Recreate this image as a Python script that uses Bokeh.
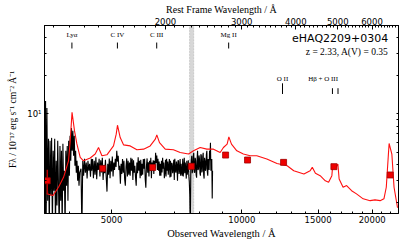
from bokeh.plotting import figure
from bokeh.models import Range1d, LogScale, LogAxis, FixedTicker, BoxAnnotation, Label, ColumnDataSource
from bokeh.embed import file_html
from bokeh.resources import INLINE
from bokeh.core.properties import value

# ---------------- data ----------------
object_name = "eHAQ2209+0304"
redshift = 2.33
a_v = 0.35

# observed spectrum (black)
spec_wave = [3500, 3510, 3520, 3530, 3545, 3560, 3575, 3590, 3605, 3620, 3635, 3650, 3665, 3680, 3695,
             3710, 3725, 3740, 3755, 3770, 3785, 3800, 3815, 3830, 3845, 3860, 3875, 3890, 3905, 3920,
             3935, 3950, 3965, 3980, 3995, 4010, 4025, 4040, 4055, 4070, 4085, 4100, 4115, 4130, 4145,
             4160, 4175, 4190, 4205, 4220, 4250, 4270, 4290, 4310, 4330, 4350, 4370, 4390, 4410, 4430,
             4450, 4470, 4490,
             4500, 4520, 4540, 4560, 4580, 4600, 4620, 4640, 4660, 4680,
             4700, 4720, 4740, 4760, 4780, 4800, 4820, 4840, 4860, 4880,
             4900, 4920, 4940, 4960, 4980, 5000, 5020, 5040, 5060, 5080,
             5100, 5120, 5140, 5160, 5180, 5200, 5220, 5240, 5260, 5280,
             5300, 5320, 5340, 5360, 5380, 5400, 5420, 5440, 5460, 5480,
             5500, 5520, 5540, 5560, 5580, 5600, 5620, 5640, 5660, 5680,
             5700, 5720, 5740, 5760, 5780, 5800, 5820, 5840, 5860, 5880,
             5900, 5920, 5940, 5960, 5980, 6000, 6020, 6040, 6060, 6080,
             6100, 6120, 6140, 6160, 6180, 6200, 6220, 6240, 6260, 6280,
             6300, 6320, 6340, 6360, 6380, 6400, 6420, 6440, 6460, 6480,
             6500, 6520, 6540, 6560, 6580, 6600, 6620, 6640, 6660, 6680,
             6700, 6720, 6740, 6760, 6780, 6800, 6820, 6840, 6860, 6880,
             6900, 6920, 6940, 6960, 6980, 7000, 7020, 7040, 7060, 7080,
             7100, 7120, 7140, 7160, 7180, 7200, 7220, 7240, 7260, 7280,
             7300, 7320, 7340, 7360, 7380, 7400, 7420, 7440, 7460, 7480,
             7500, 7520, 7540, 7560, 7580, 7600,
             7620, 7640, 7660, 7680, 7700, 7720, 7740, 7760, 7780,
             7800, 7820, 7840, 7860, 7880, 7900, 7920, 7940, 7960, 7980,
             8000, 8020, 8040, 8060, 8080, 8100, 8120, 8140, 8160, 8180,
             8200, 8220, 8240, 8260, 8280, 8300, 8320, 8340, 8360, 8380,
             8400, 8420, 8440, 8460, 8480, 8500, 8520, 8540, 8555]
spec_flux = [5.11, 1.2, 12.66, 1.2, 11.15, 2.06, 6.36, 1.2, 6.13, 2.26, 6.47, 1.2, 5.11, 2.47, 6.36,
             1.2, 4.26, 1.89, 6.13, 2.71, 1.2, 5.59, 2.06, 5.11, 1.2, 5.80, 2.47, 3.55, 1.2, 5.11,
             2.71, 5.59, 2.06, 6.13, 3.25, 6.71, 4.26, 7.76, 5.11, 7.35, 4.67, 6.71, 3.89, 5.11, 3.43,
             4.26, 2.96, 3.89, 2.71, 3.43, 3.69, 1.2, 4.26, 3.25, 4.42, 3.43, 4.12, 3.08, 4.26, 3.55,
             4.04, 3.19, 4.42,
             3.55, 4.40, 3.10, 4.26, 3.30, 4.55, 3.05, 4.12, 3.60, 4.42,
             3.20, 4.30, 3.45, 4.50, 3.00, 3.95, 3.40, 4.35, 3.15, 2.43,
             4.04, 3.30, 4.45, 3.10, 4.26, 3.50, 4.60, 3.20, 4.12, 3.60,
             4.42, 3.80, 5.11, 4.20, 4.67, 3.60, 3.89, 2.81, 4.04, 3.35,
             4.40, 3.43, 4.26, 3.05, 2.71, 3.83, 4.45, 3.20, 4.26, 3.31,
             4.12, 3.25, 4.50, 3.55, 4.42, 3.00, 4.30, 3.43, 3.89, 3.15,
             2.71, 4.12, 3.40, 4.55, 3.55, 4.26, 3.10, 4.35, 3.25, 4.04,
             3.30, 4.40, 3.69, 4.42, 3.05, 2.61, 3.89, 4.45, 3.43, 4.15,
             3.20, 4.26, 3.55, 4.50, 3.10, 4.12, 3.69, 4.30, 3.35, 4.26,
             3.70, 4.93, 4.10, 4.70, 3.60, 4.42, 3.55, 4.20, 3.25, 4.04,
             3.25, 4.26, 3.45, 4.50, 3.69, 4.12, 3.10, 3.43, 4.35, 3.20,
             4.42, 3.55, 4.20, 3.30, 3.89, 4.40, 3.15, 4.26, 3.19, 4.10,
             4.04, 3.40, 3.69, 4.35, 3.00, 4.42, 3.60, 3.43, 4.20, 3.89,
             2.96, 4.30, 4.26, 3.35, 3.55, 4.40, 3.25, 4.04, 3.45, 3.25,
             4.42, 3.20, 3.69, 4.50, 3.40, 4.12, 3.60, 3.08, 4.26, 3.30,
             3.69, 4.30, 3.25, 2.90, 2.26, 1.2,
             3.55, 4.30, 4.67, 3.40, 3.69, 4.60, 4.93, 3.50, 3.43,
             4.50, 4.26, 3.30, 3.13, 4.40, 5.11, 3.60, 3.69, 4.70, 4.42,
             3.40, 3.25, 4.80, 4.67, 3.45, 3.55, 4.60, 4.93, 3.30, 3.08,
             4.50, 4.26, 3.55, 3.69, 4.80, 5.11, 3.50, 3.25, 4.40, 4.26,
             3.60, 5.11, 4.30, 5.91, 3.55, 4.26, 4.40, 2.14, 3.55]

# reddened quasar model (red)
model_wave = [3540, 3660, 3771, 3873, 3977, 4013, 4052, 4106, 4158, 4232, 4307, 4463, 4583, 4665, 4750,
              4878, 5052, 5125, 5160, 5235, 5328, 5521, 5721, 5928, 6140, 6310, 6360, 6452, 6652, 6948,
              7202, 7528, 7731, 8010, 8298, 8600, 8909, 9065, 9245, 9330, 9461, 9734, 10078, 10450, 10825,
              11418, 12052, 12722, 13175, 13907, 14377, 14541, 14785, 15162, 15585, 15858, 16137, 16200,
              16493, 16660, 16773, 17129, 17452, 17922, 18396, 19061, 19779, 20300, 20859, 21285, 21553,
              21799, 21880, 22201, 22462, 22880]
model_flux = [2.34, 2.26, 2.63, 3.15, 4.26, 6.13, 10.3, 7.35, 5.80, 4.53, 4.26, 4.48, 4.82, 5.43, 4.67,
              4.75, 5.59, 6.92, 8.15, 6.51, 5.70, 5.59, 5.21, 5.27, 5.59, 6.32, 6.83, 5.94, 5.27, 5.21,
              4.96, 4.82, 5.11, 5.43, 5.27, 5.27, 4.96, 5.43, 5.77, 6.59, 5.77, 5.11, 4.82, 4.67, 4.67,
              4.40, 4.06, 3.89, 3.55, 3.35, 3.55, 3.78, 3.39, 3.25, 2.96, 2.88, 3.25, 3.83,
              3.78, 4.02, 3.06, 2.63, 2.71, 2.47, 2.33, 2.13, 2.06, 2.09, 2.06, 2.13, 2.63,
              4.82, 5.84, 4.82, 2.63, 1.81]

# photometry (u g r i z Y J H K)
phot_wave = [3551, 4770, 6220, 7640, 9170, 10305, 12483, 16313, 22010]
phot_flux = [2.96, 3.71, 3.77, 3.85, 4.73, 4.32, 4.14, 3.83, 3.29]
phot_err_lo = [2.34, 3.65, 3.72, 3.80, 4.66, 4.26, 4.08, 3.77, 3.22]
phot_err_hi = [3.62, 3.77, 3.82, 3.90, 4.80, 4.38, 4.20, 3.89, 3.36]

# emission line markers (rest-frame wavelengths, Angstrom)
line_names_top = ["Lyα", "C IV", "C III", "Mg II"]
line_rest_top = [1216, 1549, 1909, 2799]
line_names_low = ["O II", "Hβ + O III"]
line_rest_low = [3727, 5007]
line_ticks_low = [3727, 4861, 5007]

# telluric band (observed, Angstrom)
telluric = (7570, 7740)

# axis ticks
x_major = [5000, 10000, 15000, 20000]
x_minor = [4000, 6000, 7000, 8000, 9000, 11000, 12000, 13000, 14000, 16000, 17000, 18000, 19000,
           21000, 22000]
rest_major = [2000, 3000, 4000, 5000, 6000]
rest_minor = [1100, 1200, 1300, 1400, 1500, 1600, 1700, 1800, 1900,
              2100, 2200, 2300, 2400, 2500, 2600, 2700, 2800, 2900,
              3100, 3200, 3300, 3400, 3500, 3600, 3700, 3800, 3900,
              4100, 4200, 4300, 4400, 4500, 4600, 4700, 4800, 4900,
              5100, 5200, 5300, 5400, 5500, 5600, 5700, 5800, 5900,
              6100, 6200, 6300, 6400, 6500, 6600, 6700, 6800, 6900]
y_major = [10]
y_minor = [2, 3, 4, 5, 6, 7, 8, 9, 20, 30, 40, 50]

# ---------------- figure ----------------
x_lo, x_hi = 3500, 23000
y_lo, y_hi = 1.63, 50.2

SANS = "DejaVu Sans"
SERIF = "Liberation Serif"

p = figure(width=407, height=242, x_axis_type="log", y_axis_type="log",
           x_range=Range1d(x_lo, x_hi), y_range=Range1d(y_lo, y_hi),
           output_backend="svg", toolbar_location=None,
           min_border_left=44, min_border_right=9, min_border_top=24, min_border_bottom=29)
p.grid.visible = False
p.outline_line_color = "black"
p.outline_line_width = 1
p.background_fill_color = "white"
p.border_fill_color = "white"

p.extra_x_ranges = {"rest": Range1d(x_lo / (1 + redshift), x_hi / (1 + redshift))}
p.extra_x_scales = {"rest": LogScale()}


def style_axis(ax):
    ax.axis_line_color = "black"
    ax.major_tick_in = 4
    ax.major_tick_out = 0
    ax.minor_tick_in = 2
    ax.minor_tick_out = 0
    ax.major_tick_line_color = "black"
    ax.minor_tick_line_color = "black"
    ax.major_label_text_font = SANS
    ax.major_label_text_font_size = "8.5px"
    ax.major_label_text_color = "black"
    ax.axis_label_text_font = SERIF
    ax.axis_label_text_font_style = "normal"
    ax.axis_label_text_font_size = "10.5px"
    ax.axis_label_text_color = "black"


xb = p.xaxis[0]
xb.ticker = FixedTicker(ticks=x_major, minor_ticks=x_minor)
xb.major_label_overrides = {v: str(v) for v in x_major}
xb.axis_label = "Observed Wavelength / Å"
style_axis(xb)
xb.major_label_standoff = 2
xb.axis_label_standoff = 2

yl = p.yaxis[0]
yl.ticker = FixedTicker(ticks=y_major, minor_ticks=y_minor)
yl.major_label_overrides = {10: "10¹"}
yl.axis_label = "Fλ / 10⁻¹⁷ erg s⁻¹ cm⁻² Å⁻¹"
style_axis(yl)
yl.axis_label_text_font_size = "9.5px"
yl.major_label_standoff = 3
yl.axis_label_standoff = 6

top = LogAxis(x_range_name="rest", ticker=FixedTicker(ticks=rest_major, minor_ticks=rest_minor),
              axis_label="Rest Frame Wavelength / Å")
style_axis(top)
top.axis_label_text_font_size = "10px"
top.major_label_overrides = {v: str(v) for v in rest_major}
top.major_label_standoff = 1
top.axis_label_standoff = 0
p.add_layout(top, "above")

right = LogAxis(ticker=FixedTicker(ticks=[], minor_ticks=y_minor + y_major))
style_axis(right)
right.major_label_standoff = 0
p.add_layout(right, "right")

# telluric band
p.add_layout(BoxAnnotation(left=telluric[0], right=telluric[1], fill_color="#bdbdbd", fill_alpha=0.6,
                           line_color="#8a8a8a", line_dash="2 1", line_width=1, level="underlay"))

# spectrum and model
p.line(spec_wave, spec_flux, line_color="black", line_width=1.1)
p.line(model_wave, model_flux, line_color="#ff1010", line_width=1.1)
p.segment(x0=phot_wave, y0=phot_err_lo, x1=phot_wave, y1=phot_err_hi, line_color="#e00000", line_width=1.2)
p.scatter(phot_wave, phot_flux, marker="square", size=6, fill_color="#ee0000", line_color="#a00000",
          line_width=0.8)

# emission line labels
obs_top = [w * (1 + redshift) for w in line_rest_top]
obs_low = [w * (1 + redshift) for w in line_rest_low]
obs_low_ticks = [w * (1 + redshift) for w in line_ticks_low]
src_top = ColumnDataSource(dict(x=obs_top, t=line_names_top))
p.text(x="x", y=42.5, text="t", source=src_top, text_font=value(SERIF), text_font_size="7px",
       text_align="center", text_baseline="middle", text_color="black")
p.segment(x0=obs_top, y0=[33.0] * 4, x1=obs_top, y1=[36.8] * 4, line_color="black", line_width=1)
p.text(x=obs_low[0:1], y=19.1, text=line_names_low[0:1], text_font=value(SERIF), text_font_size="7px",
       text_align="center", text_baseline="middle", text_color="black")
p.text(x=obs_low[1:2], y=19.1, text=line_names_low[1:2], text_font=value(SERIF), text_font_size="7px",
       text_align="right", text_baseline="middle", text_color="black")
p.segment(x0=obs_low_ticks, y0=[14.4] * 3, x1=obs_low_ticks, y1=[17.5, 16.0, 16.0],
          line_color="black", line_width=1)

# object name and parameters
p.add_layout(Label(x=21783, y=39.7, text=object_name, text_font=SANS, text_font_size="11px",
                   text_align="right", text_baseline="middle", text_color="black"))
p.add_layout(Label(x=21783, y=30.8, text=f"z = {redshift:.2f}, A(V) = {a_v:.2f}", text_font=SERIF,
                   text_font_size="9.5px", text_align="right", text_baseline="middle", text_color="black"))

open("out.html", "w").write(file_html(p, INLINE))
